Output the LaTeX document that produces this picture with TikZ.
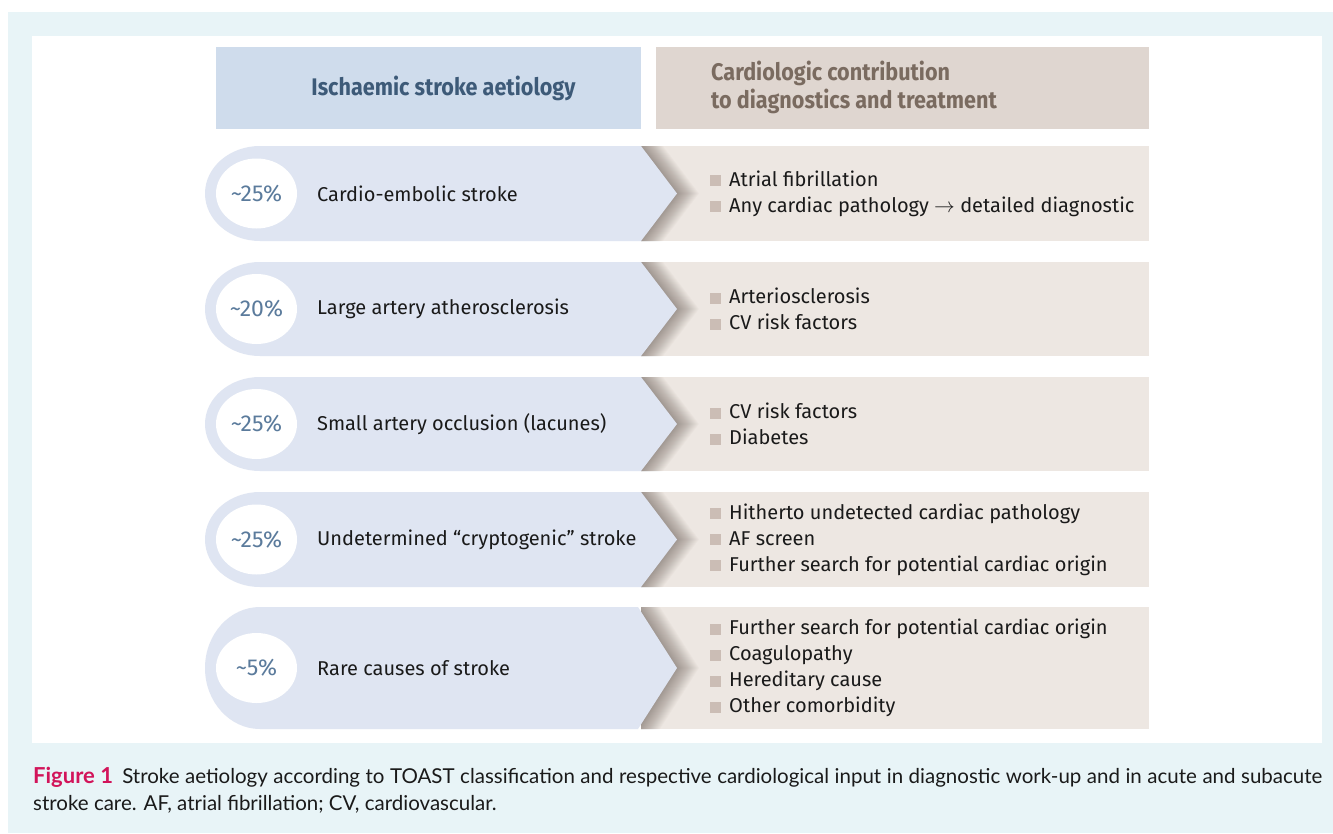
\documentclass[tikz,border=0pt]{standalone}
\usepackage{fontspec}
\setmainfont{Fira Sans}
\newfontfamily\capfont{Lato}
\newfontfamily\hdrfont[FakeStretch=0.9]{Fira Sans}
\definecolor{outerbg}{HTML}{E8F4F7}
\definecolor{hdrLfill}{HTML}{CFDCEC}
\definecolor{hdrLtext}{HTML}{3D5A78}
\definecolor{hdrRfill}{HTML}{DFD6D0}
\definecolor{hdrRtext}{HTML}{7A6B60}
\definecolor{rowL}{HTML}{DFE5F2}
\definecolor{rowR}{HTML}{EDE7E2}
\definecolor{bulcol}{HTML}{CBBDB5}
\definecolor{pctcol}{HTML}{5B7B9C}
\definecolor{bodytext}{HTML}{1A1A1A}
\definecolor{figred}{HTML}{D2145A}
\definecolor{shadecol}{HTML}{4A3A33}
\newcommand\bul{\textcolor{bulcol}{\rule[0pt]{11pt}{11pt}}\hspace{8pt}}
\newcommand\strokerow[3]{%
  \fill[rowR] (641,#1) rectangle (1149,#2);
  \begin{scope}
    \clip (641,#1) rectangle (1149,#2);
    \foreach \i in {1,...,22}{
      \fill[shadecol, opacity=0.024] ({#3+\i},#1) -- ({677+\i},{(#1+#2)/2}) -- ({#3+\i},#2) -- (600,#2) -- (600,#1) -- cycle;
    }
  \end{scope}
  \fill[rowL] (#3,#1) -- (677,{(#1+#2)/2}) -- (#3,#2) -- (260,#2) arc[start angle=90, end angle=270, x radius=55, y radius={(#2-#1)/2}] -- cycle;
  \fill[white] (256.5,{(#1+#2)/2}) ellipse[x radius=40.5, y radius=35];
}
\tikzset{
  hdrL/.style={text=hdrLtext, inner sep=0pt, font=\hdrfont\bfseries\fontsize{24}{28}\selectfont},
  hdrR/.style={text=hdrRtext, inner sep=0pt, align=left, font=\hdrfont\bfseries\fontsize{24}{28}\selectfont},
  pct/.style={text=pctcol, inner sep=0pt, font=\fontsize{23}{26}\selectfont},
  lbl/.style={text=bodytext, inner sep=0pt, anchor=west, font=\fontsize{20}{24}\selectfont},
  bullets/.style={text=bodytext, inner sep=0pt, anchor=west, align=left, font=\fontsize{20}{26}\selectfont},
  capline/.style={text=bodytext, inner sep=0pt, anchor=base west, font=\capfont\fontsize{20.5}{27}\selectfont}
}
\begin{document}
\begin{tikzpicture}[x=1pt,y=-1pt]
\useasboundingbox (0,0) rectangle (1333,833);
\fill[white] (0,0) rectangle (1333,833);
\fill[outerbg] (8,12) rectangle (1333,833);
\fill[white] (32,36) rectangle (1322,743);
% headers
\fill[hdrLfill] (216,47) rectangle (641,129);
\node[hdrL] (hL) at (443.5,88) {Ischaemic stroke aetiology};
\fill[hdrRfill] (656,47) rectangle (1149,129);
\node[hdrR, anchor=west] (hR) at (711,87) {Cardiologic contribution\\to diagnostics and treatment};
% row 1
\strokerow{146}{241}{641}
\node[pct] (p1) at (256.5,193.5) {\textasciitilde 25\%};
\node[lbl] (l1) at (317,193.5) {Cardio-embolic stroke};
\node[bullets] (b1) at (710,193.5) {\bul Atrial fibrillation\\\bul Any cardiac pathology $\rightarrow$ detailed diagnostic};
% row 2
\strokerow{262}{356}{641}
\node[pct] (p2) at (256.5,309) {\textasciitilde 20\%};
\node[lbl] (l2) at (317,309) {Large artery atherosclerosis};
\node[bullets] (b2) at (710,309) {\bul Arteriosclerosis\\\bul CV risk factors};
% row 3
\strokerow{377}{471}{641}
\node[pct] (p3) at (256.5,424) {\textasciitilde 25\%};
\node[lbl] (l3) at (317,424) {Small artery occlusion (lacunes)};
\node[bullets] (b3) at (710,424) {\bul CV risk factors\\\bul Diabetes};
% row 4
\strokerow{492}{587}{641}
\node[pct] (p4) at (256.5,539.5) {\textasciitilde 25\%};
\node[lbl] (l4) at (317,539.5) {Undetermined “cryptogenic” stroke};
\node[bullets] (b4) at (710,539.5) {\bul Hitherto undetected cardiac pathology\\\bul AF screen\\\bul Further search for potential cardiac origin};
% row 5
\strokerow{607}{729}{638}
\node[pct] (p5) at (256.5,668) {\textasciitilde 5\%};
\node[lbl] (l5) at (317,668) {Rare causes of stroke};
\node[bullets] (b5) at (710,668) {\bul Further search for potential cardiac origin\\\bul Coagulopathy\\\bul Hereditary cause\\\bul Other comorbidity};
% caption
\node[capline] (c1) at (33,783) {\makebox[1289pt][s]{\textcolor{figred}{\bfseries\fontsize{22}{27}\selectfont Figure 1}\hspace{9pt}Stroke aetiology according to TOAST classification and respective cardiological input in diagnostic work-up and in acute and subacute}};
\node[capline] (c2) at (33,810) {stroke care. AF, atrial fibrillation; CV, cardiovascular.};
\end{tikzpicture}
\end{document}
